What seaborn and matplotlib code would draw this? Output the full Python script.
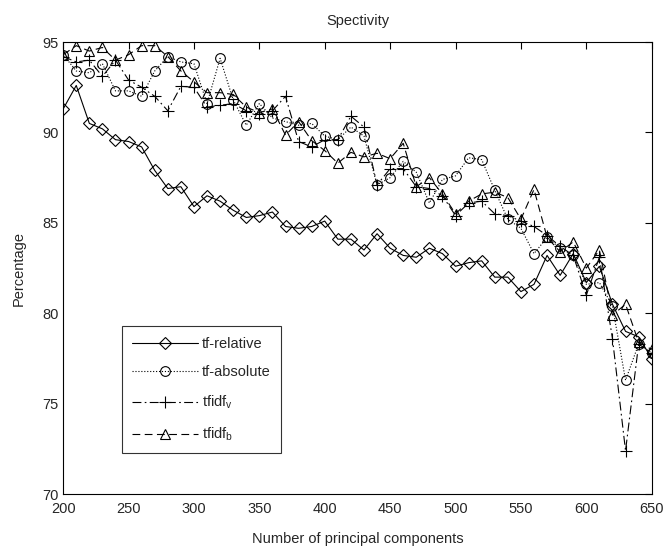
import matplotlib
matplotlib.use('Agg')
import matplotlib.pyplot as plt
import numpy as np
import pandas as pd
import seaborn as sns

# number of principal components (x)
components = list(range(200, 651, 10))

# values
tf_relative = [91.3, 92.6, 90.5, 90.2, 89.6, 89.5, 89.2, 87.9, 86.9, 87.0,
               85.9, 86.5, 86.2, 85.7, 85.3, 85.4, 85.6, 84.8, 84.7, 84.8,
               85.1, 84.1, 84.1, 83.5, 84.4, 83.6, 83.2, 83.1, 83.6, 83.3,
               82.6, 82.8, 82.9, 82.0, 82.0, 81.2, 81.6, 83.2, 82.1, 83.3,
               81.7, 82.6, 80.5, 79.0, 78.7, 77.5]
tf_absolute = [94.3, 93.4, 93.3, 93.8, 92.3, 92.3, 92.0, 93.4, 94.2, 93.9,
               93.8, 91.6, 94.1, 91.8, 90.4, 91.6, 90.8, 90.6, 90.4, 90.5,
               89.8, 89.6, 90.3, 89.8, 87.1, 87.5, 88.4, 87.8, 86.1, 87.4,
               87.6, 88.6, 88.5, 86.8, 85.2, 84.7, 83.3, 84.2, 83.6, 83.2,
               81.6, 81.7, 80.4, 76.3, 78.3, 77.8]
tfidf_v = [94.2, 93.9, 94.0, 93.1, 94.0, 92.9, 92.5, 92.0, 91.2, 92.55,
           92.5, 91.4, 91.5, 91.6, 91.2, 91.0, 91.2, 92.0, 89.5, 89.2,
           89.6, 89.6, 90.9, 90.3, 87.1, 88.0, 88.0, 87.0, 86.9, 86.5,
           85.4, 86.1, 86.2, 85.5, 85.4, 85.1, 84.8, 84.3, 83.7, 83.2,
           81.0, 83.1, 78.6, 72.4, 78.3, 77.8]
tfidf_b = [94.3, 94.8, 94.5, 94.7, 94.0, 94.3, 94.8, 94.8, 94.2, 93.4,
           92.8, 92.2, 92.2, 92.1, 91.4, 91.1, 91.3, 89.85, 90.6, 89.55,
           89.0, 88.3, 88.9, 88.65, 88.85, 88.55, 89.4, 87.0, 87.5, 86.6,
           85.5, 86.2, 86.6, 86.7, 86.4, 85.2, 86.85, 84.2, 83.4, 83.95,
           82.5, 83.5, 79.9, 80.5, 78.4, 78.0]

labels = ['tf-relative', 'tf-absolute', r'tfidf$_v$', r'tfidf$_b$']

sns.set_style('white')
plt.rcParams['font.family'] = ['Liberation Sans', 'DejaVu Sans']
plt.rcParams['mathtext.fontset'] = 'custom'
plt.rcParams['mathtext.rm'] = 'Liberation Sans'
plt.rcParams['mathtext.it'] = 'Liberation Sans'

fig = plt.figure(figsize=(6.65, 5.46), dpi=100)
ax = fig.add_axes([0.095, 0.095, 0.885, 0.828])

series = [tf_relative, tf_absolute, tfidf_v, tfidf_b]
markers = ['D', 'o', '+', '^']
msizes = [6, 7, 9, 7.5]
styles = ['-', ':', (0, (8, 3, 1.5, 3)), (0, (7, 4))]
for vals, lab, m, ms, ls in zip(series, labels, markers, msizes, styles):
    sns.lineplot(x=components, y=vals, ax=ax, color='k', label=lab,
                 marker=m, markersize=ms, linestyle=ls, linewidth=0.8,
                 markerfacecolor='none', markeredgecolor='k',
                 markeredgewidth=0.8, errorbar=None)

ax.set_xlim(200, 650)
ax.set_ylim(70, 95)
ax.set_xticks(range(200, 651, 50))
ax.set_yticks(range(70, 96, 5))
ax.tick_params(direction='in', top=True, right=True, length=5,
               labelsize=10.5, width=0.8, color='k')
ax.tick_params(axis='x', pad=6)
for s in ax.spines.values():
    s.set_visible(True)
    s.set_color('k')
    s.set_linewidth(0.8)

ax.set_title('Spectivity', fontsize=10.5, pad=12)
ax.set_xlabel('Number of principal components', fontsize=10.5, labelpad=11)
ax.set_ylabel('Percentage', fontsize=10.5, labelpad=12)

leg = ax.legend(loc='lower left', bbox_to_anchor=(0.1, 0.09), numpoints=1,
                handlelength=4.5, fontsize=10.5, frameon=True, fancybox=False,
                borderpad=0.7, labelspacing=1.0, handletextpad=0.3,
                borderaxespad=0.0)
leg.get_frame().set_edgecolor('k')
leg.get_frame().set_linewidth(0.8)

fig.savefig('out.png', dpi=100, facecolor='white')
